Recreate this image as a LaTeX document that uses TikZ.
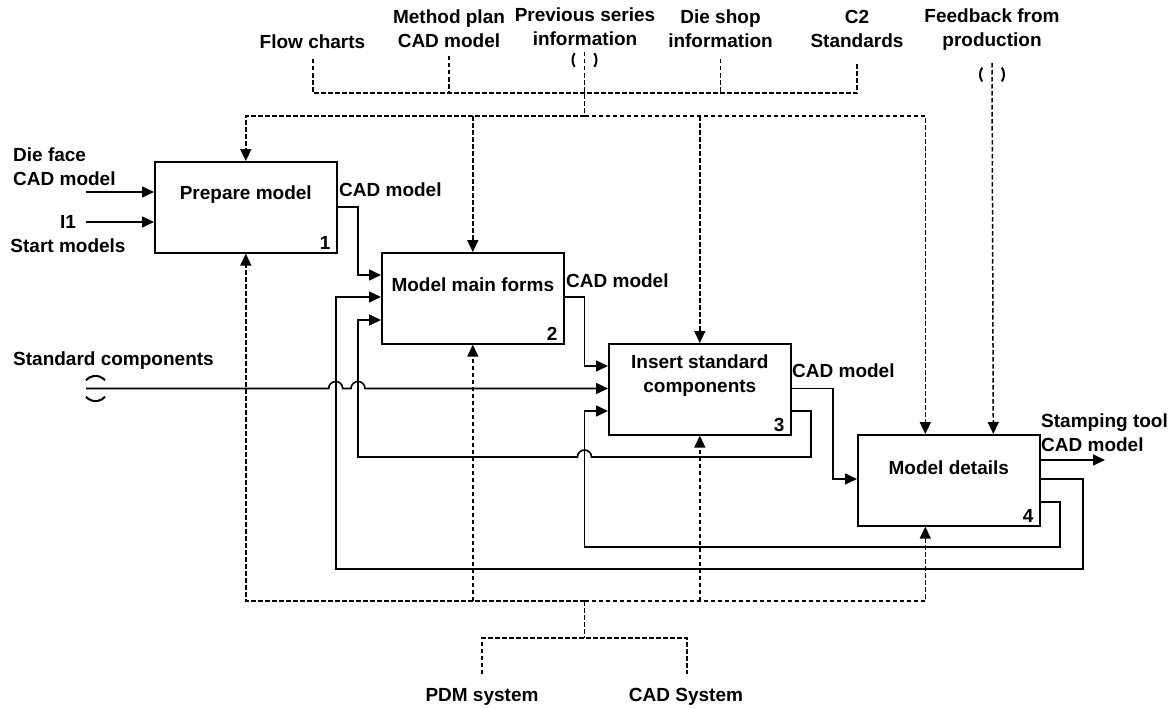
\documentclass[tikz,border=0pt]{standalone}
\usepackage{fontspec}
\setmainfont{Liberation Sans}
\usetikzlibrary{arrows.meta,calc}
\begin{document}
\begin{tikzpicture}[x=1pt,y=-1pt,
  font=\fontsize{19}{24}\selectfont\bfseries,
  box/.style={draw,line width=1.6pt,minimum width=182pt,minimum height=91pt,inner sep=0pt,anchor=north west},
  lbl/.style={inner sep=0pt,align=center},
  flow/.style={line width=1.6pt},
  arr/.style={-{Triangle[length=12pt,width=11pt]}},
  dsh/.style={line width=1.5pt,dash pattern=on 4.5pt off 2.5pt},
  tun/.style={line width=2pt}]
\useasboundingbox (0,0) rectangle (1175,709);

% activity boxes
\node[box] (b1) at (154,161) {};
\node[box] (b2) at (381,252) {};
\node[box] (b3) at (608,343) {};
\node[box] (b4) at (857,434) {};
\node[lbl] (t1) at ([yshift=-34pt]b1.north) {Prepare model};
\node[lbl] (t2) at ([yshift=-33pt]b2.north) {Model main forms};
\node[lbl] (t3) at ([yshift=-33pt]b3.north) {Insert standard\\components};
\node[lbl] (t4) at ([yshift=-34pt]b4.north) {Model details};
\node[lbl,anchor=south east] (n1) at ([xshift=-7pt,yshift=4pt]b1.south east) {1};
\node[lbl,anchor=south east] (n2) at ([xshift=-7pt,yshift=4pt]b2.south east) {2};
\node[lbl,anchor=south east] (n3) at ([xshift=-7pt,yshift=4pt]b3.south east) {3};
\node[lbl,anchor=south east] (n4) at ([xshift=-7pt,yshift=4pt]b4.south east) {4};

% labels
\node[lbl,anchor=west,align=left] (df) at (13,167) {Die face\\CAD model};
\node[lbl] (i1) at (68,234.5) {I1\\Start models};
\node[lbl,anchor=west] (sc) at (13,361) {Standard components};
\node[lbl] (fc) at (312.5,42) {Flow charts};
\node[lbl] (mp) at (449,29) {Method plan\\CAD model};
\node[lbl] (ps) at (585,27) {Previous series\\information};
\node[lbl] (ds) at (720.5,29) {Die shop\\information};
\node[lbl] (c2) at (857,29) {C2\\Standards};
\node[lbl] (fb) at (992,30) {Feedback from\\production};
\node[lbl] (pdm) at (482,697) {PDM system};
\node[lbl] (cad) at (686,697) {CAD System};
\node[lbl,anchor=west] (o1) at (339,190) {CAD model};
\node[lbl,anchor=west] (o2) at (566,281) {CAD model};
\node[lbl,anchor=west] (o3) at (792,371) {CAD model};
\node[lbl,anchor=west,align=left] (o4) at (1041,433) {Stamping tool\\CAD model};

% free ends
\coordinate (fcE) at (313,59);
\coordinate (mpE) at (449,56);
\coordinate (psE) at (584.5,52);
\coordinate (dsE) at (720.7,59);
\coordinate (c2E) at (857,62);
\coordinate (fbE) at (992,63);
\coordinate (ub) at (584.5,93);
\coordinate (lb) at (584.5,116);
\coordinate (lo) at (584.5,601);
\coordinate (bm) at (584.5,638);
\coordinate (pdmE) at (482,674);
\coordinate (cadE) at (687,674);
\coordinate (dfE) at (86,192);
\coordinate (i1E) at (86,222);
\coordinate (scE) at (86,388.5);
\coordinate (outE) at (1105,460);

% controls (top)
\draw[dsh] (fcE) |- (ub) -| (c2E);
\draw[dsh] (mpE) -- (mpE |- ub);
\draw[dsh] (dsE) -- (dsE |- ub);
\draw[dsh] (psE) -- (lb);
\draw[dsh,arr] (lb) -| (b1.north);
\draw[dsh,arr] (lb) -| ([xshift=-23.5pt]b4.north);
\draw[dsh,arr] (lb -| b2.north) -- (b2.north);
\draw[dsh,arr] (lb -| b3.north) -- (b3.north);
\draw[dsh,arr] (fbE) -- ([xshift=44.5pt]b4.north);

% mechanisms (bottom)
\draw[dsh,arr] (lo) -| (b1.south);
\draw[dsh,arr] (lo) -| ([xshift=-23.5pt]b4.south);
\draw[dsh,arr] (lo -| b2.south) -- (b2.south);
\draw[dsh,arr] (lo -| b3.south) -- (b3.south);
\draw[dsh] (lo) -- (bm);
\draw[dsh] (pdmE) |- (bm) -| (cadE);

% tunnel marks
\draw[tun] (574.67,53.12) arc[start angle=145,end angle=215,radius=12pt];
\draw[tun] (594.33,66.88) arc[start angle=-35,end angle=35,radius=12pt];
\draw[tun] (982.17,67.62) arc[start angle=145,end angle=215,radius=12pt];
\draw[tun] (1001.83,81.38) arc[start angle=-35,end angle=35,radius=12pt];
\draw[tun] (105.01,380.23) arc[start angle=41,end angle=139,radius=12.6pt];
\draw[tun] (85.99,396.77) arc[start angle=221,end angle=319,radius=12.6pt];

% inputs and outputs
\draw[flow,arr] (dfE) -- (dfE -| b1.west);
\draw[flow,arr] (i1E) -- (i1E -| b1.west);
\draw[flow,arr] (scE) -- (328.7,388.5) arc[start angle=180,end angle=0,radius=7pt]
   -- (351,388.5) arc[start angle=180,end angle=0,radius=7pt] -- ([yshift=-45.5pt]b3.north west);
\draw[flow,arr] ([yshift=-46pt]b1.north east) -| (358,275) -- ([yshift=-23pt]b2.north west);
\draw[flow,arr] ([yshift=-45pt]b2.north east) -| (584.5,366) -- ([yshift=-23pt]b3.north west);
\draw[flow,arr] ([yshift=-45.5pt]b3.north east) -| (833,479) -- ([yshift=-45pt]b4.north west);
\draw[flow,arr] ([yshift=-26pt]b4.north east) -- (outE);
\draw[flow,arr] ([yshift=-45pt]b4.north east) -| (1082.7,569) -| (335.7,297) -- ([yshift=-45pt]b2.north west);
\draw[flow,arr] ([yshift=-68pt]b4.north east) -| (1060,546.7) -| (584.5,411) -- ([yshift=-68pt]b3.north west);
\draw[flow,arr] ([yshift=-68pt]b3.north east) -| (811,457) -- (591.5,457)
   arc[start angle=0,end angle=180,radius=7pt] -- (358,457) -- (358,320) -- ([yshift=-68pt]b2.north west);
\end{tikzpicture}
\end{document}
